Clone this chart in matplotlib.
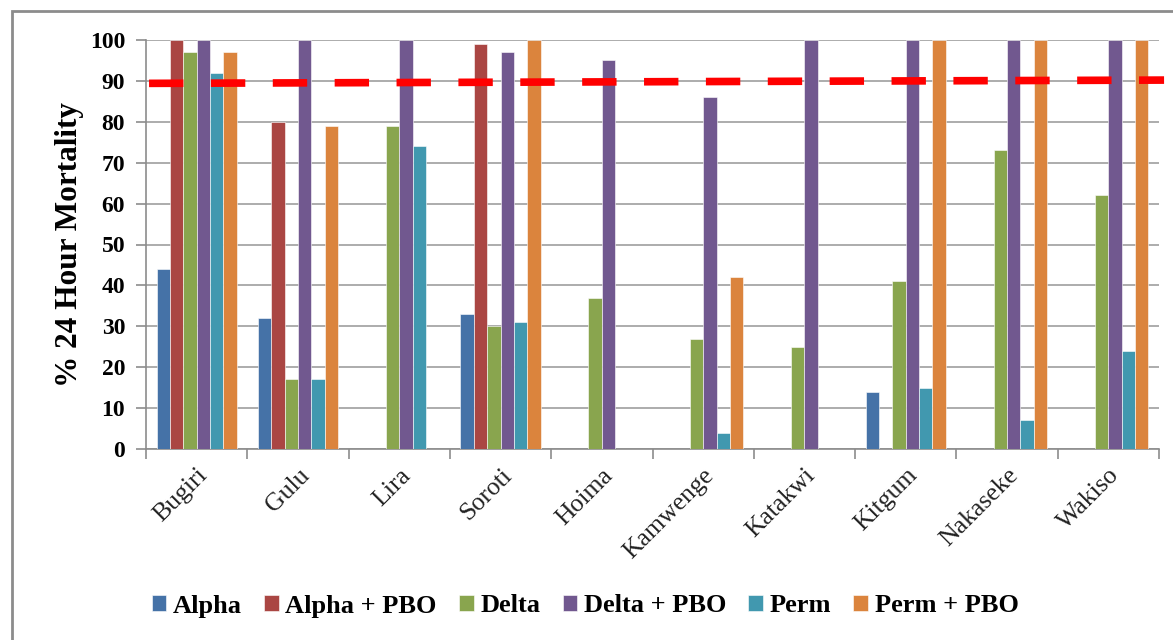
import numpy as np
import matplotlib.pyplot as plt
from matplotlib.patches import Rectangle

plt.rcParams['font.family'] = ['Liberation Serif', 'DejaVu Serif']

sites = ['Bugiri', 'Gulu', 'Lira', 'Soroti', 'Hoima', 'Kamwenge',
         'Katakwi', 'Kitgum', 'Nakaseke', 'Wakiso']
series = ['Alpha', 'Alpha + PBO', 'Delta', 'Delta + PBO', 'Perm', 'Perm + PBO']

alpha = [44, 32, 0, 33, 0, 0, 0, 14, 0, 0]
alpha_pbo = [100, 80, 0, 99, 0, 0, 0, 0, 0, 0]
delta = [97, 17, 79, 30, 37, 27, 25, 41, 73, 62]
delta_pbo = [100, 100, 100, 97, 95, 86, 100, 100, 100, 100]
perm = [92, 17, 74, 31, 0, 4, 0, 15, 7, 24]
perm_pbo = [97, 79, 0, 100, 0, 42, 0, 100, 100, 100]

# threshold line, drawn slightly tilted from left to right
threshold = [89.4, 90.2]

colors = ['#4572A7', '#AA4643', '#89A54E', '#71588F', '#4198AF', '#DB843D']

fig = plt.figure(figsize=(11.73, 6.4), dpi=100)
ax = fig.add_axes([146 / 1173, 1 - 449 / 640, (1159 - 146) / 1173, (449 - 40) / 640])

# outer chart border
fig.patches.append(Rectangle((12 / 1173, -0.1), 1.2, 1 - 11 / 640 + 0.1,
                             transform=fig.transFigure, fill=False,
                             edgecolor='#8c8c8c', linewidth=2, zorder=0))

x = np.arange(len(sites))
w = 0.132
data = [alpha, alpha_pbo, delta, delta_pbo, perm, perm_pbo]
for i, (vals, name, c) in enumerate(zip(data, series, colors)):
    ax.bar(x + (i - 2.5) * w, vals, width=w, color=c, label=name,
           edgecolor='white', linewidth=0.4, zorder=3)

ax.plot([-0.47, 9.55], threshold, color='#ff0000', linewidth=5.5,
        dashes=(4.5, 3.6), zorder=4, clip_on=False)

ax.set_xlim(-0.5, 9.5)
ax.set_ylim(0, 100)
ax.set_yticks(range(0, 101, 10))
ax.set_xticks(np.arange(-0.5, 10, 1), minor=True)
ax.set_xticks(x)
ax.set_xticklabels(sites, rotation=45, ha='right', rotation_mode='anchor',
                   fontsize=18.5, color='#222222')
ax.tick_params(axis='x', which='major', length=0, pad=11)
ax.tick_params(axis='x', which='minor', length=7, color='#8c8c8c', width=1.2)
ax.tick_params(axis='y', length=7, color='#8c8c8c', width=1.2, pad=8)
for lab in ax.get_yticklabels():
    lab.set_fontsize(17)
    lab.set_fontweight('bold')

ax.grid(axis='y', color='#a6a6a6', linewidth=1.3, zorder=0)
ax.set_axisbelow(True)
for s in ['top', 'right']:
    ax.spines[s].set_visible(False)
ax.spines['left'].set_color('#8c8c8c')
ax.spines['bottom'].set_color('#8c8c8c')
ax.spines['left'].set_linewidth(1.2)
ax.spines['bottom'].set_linewidth(1.2)

ax.set_ylabel('% 24 Hour Mortality', fontsize=22.5, fontweight='bold', labelpad=4)

fig.legend(loc='center', bbox_to_anchor=(585 / 1173, 1 - 606 / 640), ncol=6,
           frameon=False, handlelength=0.55, handleheight=0.55, handletextpad=0.25,
           columnspacing=0.85, prop={'size': 19, 'weight': 'bold'})

fig.savefig('out.png', dpi=100)
